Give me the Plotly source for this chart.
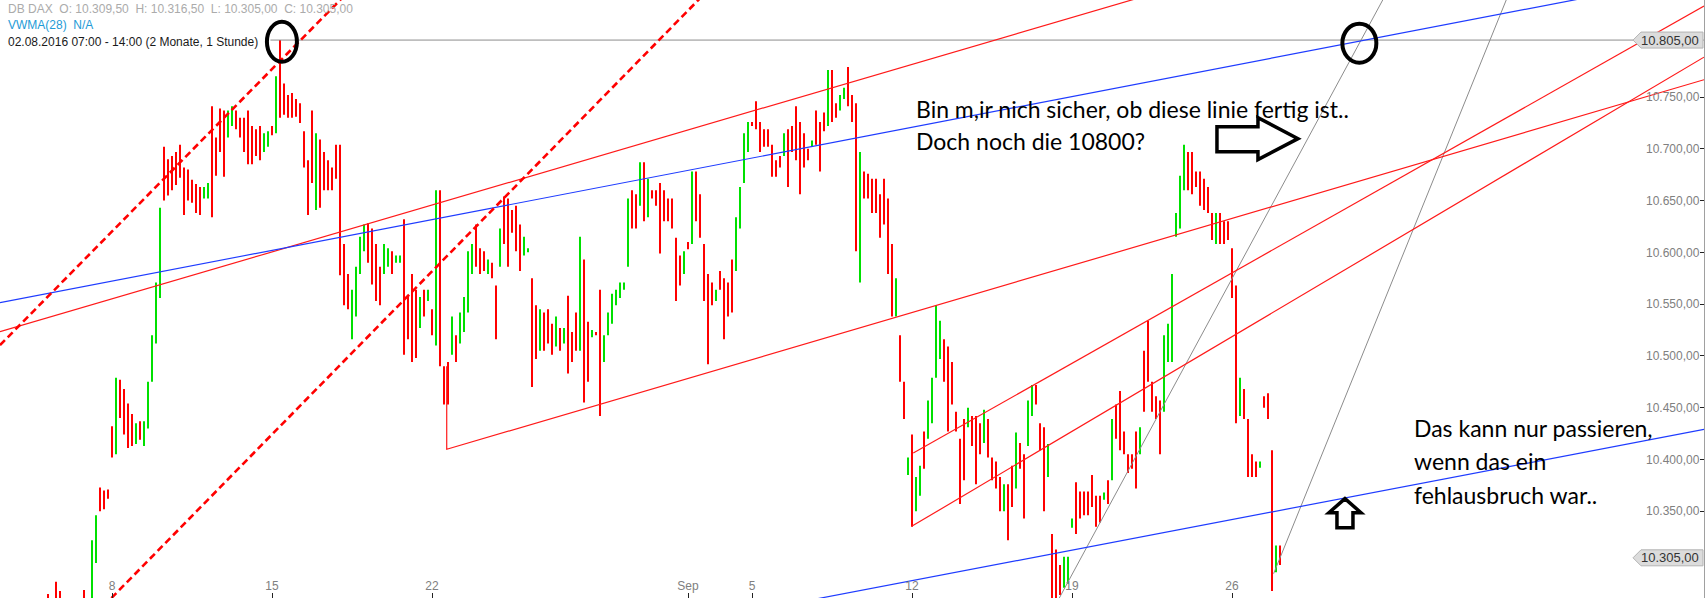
import plotly.graph_objects as go

# ---------------- data ----------------
DAY_NAMES = ["Aug 4", "Aug 5", "Aug 8", "Aug 9", "Aug 10", "Aug 11", "Aug 12",
             "Aug 15", "Aug 16", "Aug 17", "Aug 18", "Aug 19",
             "Aug 22", "Aug 23", "Aug 24", "Aug 25", "Aug 26",
             "Aug 29", "Aug 30", "Aug 31", "Sep 1", "Sep 2",
             "Sep 5", "Sep 6", "Sep 7", "Sep 8", "Sep 9",
             "Sep 12", "Sep 13", "Sep 14", "Sep 15", "Sep 16",
             "Sep 19", "Sep 20", "Sep 21", "Sep 22", "Sep 23",
             "Sep 26", "Sep 27"]
DAY_INDEX = [-2, -1, 0, 1, 2, 3, 4, 5, 6, 7, 8, 9, 10, 11, 12, 13, 14, 15, 16, 17,
             18, 19, 20, 21, 22, 23, 24, 25, 26, 27, 28, 29, 30, 31, 32, 33, 34, 35, 36]
BARS_PER_DAY = 8

HIGHS = [
    [10270, None, 10282, 10273, None, None, None, None],
    [None, 10274, None, 10322, 10346, 10373, 10370, 10371],
    [10432, 10479, 10477, 10468, 10454, 10444, 10435, 10437],
    [10437, 10475, 10520, 10571, 10643, 10702, 10690, 10693],
    [10697, 10704, 10682, 10680, 10670, 10666, 10663, 10663],
    [10667, 10741, 10711, 10739, 10737, 10737, 10741, 10737],
    [10730, 10730, 10737, 10722, 10719, 10722, 10715, 10717],
    [10722, 10770, 10805, 10763, 10752, 10754, 10748, 10744],
    [10717, 10689, 10737, 10715, 10709, 10697, 10689, 10682],
    [10704, 10704, 10608, 10579, 10564, 10586, 10615, 10627],
    [10628, 10623, 10608, 10586, 10608, 10604, 10601, 10597],
    [10597, 10632, 10557, 10579, 10564, 10557, 10564, 10564],
    [10545, 10660, 10660, 10490, 10494, 10538, 10520, 10542],
    [10557, 10601, 10608, 10627, 10604, 10601, 10593, 10590],
    [10568, 10623, 10654, 10652, 10641, 10645, 10627, 10615],
    [10604, 10575, 10549, 10545, 10542, 10545, 10531, 10538],
    [10527, 10527, 10558, 10523, 10542, 10615, 10593, 10533],
    [10525, 10523, 10564, 10520, 10542, 10560, 10564, 10571],
    [10571, 10652, 10660, 10656, 10687, 10687, 10671, 10660],
    [10660, 10667, 10660, 10652, 10652, 10614, 10597, 10601],
    [10610, 10678, 10678, 10656, 10608, 10579, 10571, 10564],
    [10582, 10575, 10571, 10593, 10634, 10663, 10715, 10726],
    [10726, 10746, 10726, 10719, 10719, 10704, 10689, 10693],
    [10715, 10719, 10722, 10741, 10726, 10715, 10700, 10708],
    [10737, 10726, 10735, 10776, 10776, 10744, 10752, 10759],
    [10779, 10752, 10744, 10697, 10678, 10676, 10671, 10671],
    [10656, 10671, 10652, 10608, 10575, 10520, 10475, 10402],
    [10424, 10383, 10394, 10427, 10457, 10479, 10549, 10534],
    [10516, 10509, 10494, 10446, 10420, 10439, 10450, 10442],
    [10442, 10435, 10448, 10439, 10402, 10398, 10383, 10376],
    [10376, 10394, 10426, 10416, 10405, 10457, 10472, 10472],
    [10435, 10431, 10415, 10328, 10313, 10298, 10306, 10306],
    [10343, 10378, 10369, 10369, 10369, 10385, 10365, 10365],
    [10368, 10380, 10439, 10453, 10466, 10427, 10405, 10405],
    [10427, 10431, 10505, 10534, 10475, 10461, 10457, 10520],
    [10531, 10579, 10638, 10674, 10704, 10697, 10697, 10678],
    [10678, 10671, 10663, 10638, 10638, 10638, 10630, 10630],
    [10604, 10568, 10479, 10468, 10439, 10405, 10398, 10398],
    [10461, 10464, 10409, 10317, 10317, None, None, None],
]
LOWS = [
    [10240, None, 10245, 10245, None, None, None, None],
    [None, 10250, None, 10255, 10300, 10350, 10352, 10362],
    [10402, 10405, 10440, 10424, 10411, 10413, 10415, 10419],
    [10413, 10430, 10475, 10512, 10556, 10650, 10655, 10660],
    [10665, 10672, 10636, 10650, 10648, 10638, 10636, 10652],
    [10652, 10634, 10674, 10697, 10673, 10711, 10722, 10719],
    [10711, 10697, 10685, 10685, 10693, 10689, 10697, 10702],
    [10713, 10715, 10730, 10733, 10730, 10730, 10731, 10725],
    [10682, 10636, 10667, 10641, 10643, 10660, 10660, 10660],
    [10671, 10578, 10549, 10545, 10516, 10538, 10579, 10601],
    [10590, 10569, 10553, 10549, 10579, 10586, 10579, 10590],
    [10590, 10501, 10516, 10494, 10498, 10527, 10538, 10553],
    [10520, 10510, 10490, 10453, 10453, 10501, 10494, 10512],
    [10523, 10542, 10579, 10586, 10579, 10582, 10579, 10575],
    [10516, 10586, 10608, 10586, 10619, 10601, 10582, 10597],
    [10600, 10470, 10497, 10505, 10505, 10512, 10501, 10509],
    [10505, 10512, 10483, 10494, 10505, 10505, 10455, 10475],
    [10518, 10520, 10442, 10494, 10520, 10531, 10549, 10556],
    [10564, 10586, 10623, 10623, 10645, 10630, 10634, 10652],
    [10645, 10599, 10630, 10630, 10623, 10553, 10568, 10579],
    [10603, 10608, 10630, 10614, 10553, 10492, 10549, 10553],
    [10564, 10516, 10538, 10542, 10582, 10623, 10667, 10697],
    [10722, 10719, 10697, 10702, 10702, 10673, 10673, 10682],
    [10693, 10663, 10697, 10689, 10656, 10682, 10689, 10702],
    [10704, 10678, 10717, 10722, 10726, 10730, 10737, 10748],
    [10741, 10726, 10601, 10571, 10652, 10652, 10638, 10638],
    [10614, 10627, 10579, 10538, 10538, 10475, 10439, 10385],
    [10335, 10350, 10365, 10391, 10420, 10435, 10479, 10497],
    [10475, 10427, 10453, 10427, 10357, 10380, 10431, 10413],
    [10376, 10405, 10416, 10402, 10380, 10372, 10350, 10350],
    [10322, 10354, 10372, 10391, 10343, 10413, 10442, 10453],
    [10409, 10350, 10383, 10250, 10250, 10269, 10276, 10280],
    [10334, 10328, 10343, 10346, 10346, 10354, 10335, 10339],
    [10361, 10357, 10380, 10420, 10409, 10405, 10387, 10391],
    [10372, 10405, 10446, 10475, 10446, 10439, 10405, 10446],
    [10494, 10494, 10615, 10623, 10660, 10660, 10656, 10663],
    [10645, 10641, 10638, 10612, 10608, 10608, 10608, 10612],
    [10556, 10435, 10442, 10439, 10383, 10383, 10383, 10392],
    [10450, 10439, 10273, 10291, 10298, None, None, None],
]
# r = falling bar, g = rising bar
DIRECTION = [
    "rrrrrrrr", "rrrggrrr", "rgrrrrgr", "gggggrrr", "rrrrrrrg", "grrrrggr",
    "rrrrrrgg", "rgrrrrrr", "rrrgrrrr", "rrrrgggg", "rrrrggrg", "grrrrgrg",
    "rgrrrgrg", "gggrrrgr", "rgrrrrrg", "grrgrrrg", "rgrrrgrr", "grrggggg",
    "ggrrgrgr", "rrrrrrrg", "rgrrrrrg", "rrrrgggg", "rrrrrrrr", "grrrrrrg",
    "rrrgrrgg", "rrrgrrrr", "rrrrgrrg", "rggrgggg", "rrrrrrgr", "rrgrrrrg",
    "rrgrrggr", "rrgrrrgg", "grrrrrrr", "grgrrrrr", "rgrrrrrg", "gggggrrr",
    "rrrrgrrr", "rrgrrrrg", "rrrgrrrr",
]

X_TICK_POS = [0, 5, 10, 18, 20, 25, 30, 35]
X_TICK_TEXT = ["8", "15", "22", "Sep", "5", "12", "19", "26"]
Y_TICK_VALS = [10350, 10400, 10450, 10500, 10550, 10600, 10650, 10700, 10750]
Y_TICK_TEXT = ["10.350,00", "10.400,00", "10.450,00", "10.500,00", "10.550,00",
               "10.600,00", "10.650,00", "10.700,00", "10.750,00"]
X_RANGE = [-3.5, 49.75]
Y_RANGE = [10266.2, 10843.7]

# trend lines drawn on the chart: (day position, price) vertices
RED_DASHED = [
    ([-3.5, 8.0], [10510.4, 10871.0]),
    ([-0.5, 19.0], [10251.0, 10865.0]),
]
BLUE_LINES = [
    ([-3.5, 47.0], [10551.4, 10851.5]),
    ([21.5, 49.75], [10262.3, 10429.0]),
]
RED_LINES = [
    ([-3.5, 33.0], [10523.4, 10854.0]),
    ([10.46, 10.46, 49.75], [10490.0, 10409.8, 10766.7]),
    ([25.04, 49.75], [10406.2, 10837.8]),
    ([24.99, 49.75], [10335.4, 10788.5]),
]
GRAY_LINES = [
    ([29.6, 39.75], [10266.0, 10846.0]),
    ([36.3, 43.6], [10289.7, 10846.0]),
]
MARKED_LEVEL = 10805
MARKED_FROM = 4.95
LAST_PRICE = 10305

# ---------------- build ----------------
fig = go.Figure()

red_x, red_y, grn_x, grn_y = [], [], [], []
for d, idx in enumerate(DAY_INDEX):
    for j in range(BARS_PER_DAY):
        h, l = HIGHS[d][j], LOWS[d][j]
        if h is None:
            continue
        xv = idx + j / BARS_PER_DAY
        if DIRECTION[d][j] == "g":
            grn_x += [xv, xv, None]
            grn_y += [l, h, None]
        else:
            red_x += [xv, xv, None]
            red_y += [l, h, None]

fig.add_trace(go.Scatter(x=red_x, y=red_y, mode="lines",
                         line=dict(color="#ff0000", width=2), hoverinfo="skip"))
fig.add_trace(go.Scatter(x=grn_x, y=grn_y, mode="lines",
                         line=dict(color="#00e000", width=2), hoverinfo="skip"))

fig.add_trace(go.Scatter(x=[MARKED_FROM, X_RANGE[1] + 1], y=[MARKED_LEVEL, MARKED_LEVEL],
                         mode="lines", line=dict(color="#8c8c8c", width=1), hoverinfo="skip"))
for xs, ys in GRAY_LINES:
    fig.add_trace(go.Scatter(x=xs, y=ys, mode="lines",
                             line=dict(color="#8c8c8c", width=1), hoverinfo="skip"))
for xs, ys in RED_LINES:
    fig.add_trace(go.Scatter(x=xs, y=ys, mode="lines",
                             line=dict(color="#ff1a1a", width=1.2), hoverinfo="skip"))
for xs, ys in BLUE_LINES:
    fig.add_trace(go.Scatter(x=xs, y=ys, mode="lines",
                             line=dict(color="#1f3cff", width=1.2), hoverinfo="skip"))
for xs, ys in RED_DASHED:
    fig.add_trace(go.Scatter(x=xs, y=ys, mode="lines",
                             line=dict(color="#ff0000", width=2.6, dash="7px,4px"),
                             hoverinfo="skip"))

shapes = []
# black ellipses
for cx, cy, rx, ry in [(5.31, 10803.4, 15, 20), (38.98, 10802.0, 17, 19.5)]:
    shapes.append(dict(type="circle", xref="x", yref="y", xsizemode="pixel", ysizemode="pixel",
                       xanchor=cx, yanchor=cy, x0=-rx, x1=rx, y0=-ry, y1=ry,
                       line=dict(color="black", width=4)))
# block arrows
shapes.append(dict(type="path", xref="x", yref="y", xsizemode="pixel", ysizemode="pixel",
                   xanchor=34.53, yanchor=10709.8,
                   path="M0,12 L41,12 L41,21 L81,0 L41,-21 L41,-13 L0,-13 Z",
                   line=dict(color="black", width=3.5)))
shapes.append(dict(type="path", xref="x", yref="y", xsizemode="pixel", ysizemode="pixel",
                   xanchor=38.53, yanchor=10334.1,
                   path="M-8,0 L-8,15 L-16,15 L0,29 L16,15 L8,15 L8,0 Z",
                   line=dict(color="black", width=3.5)))
# price tags on the right axis
for level in [MARKED_LEVEL, LAST_PRICE]:
    shapes.append(dict(type="path", xref="paper", yref="y", xsizemode="pixel", ysizemode="pixel",
                       xanchor=1, yanchor=level,
                       path="M-71,0 L-63,8 L-1,8 L-1,-8 L-63,-8 Z",
                       fillcolor="#dcdcdc", line=dict(color="#b4b4b4", width=1)))

annotations = []
for level, txt in [(MARKED_LEVEL, "10.805,00"), (LAST_PRICE, "10.305,00")]:
    annotations.append(dict(xref="paper", yref="y", x=1, y=level, xanchor="right", yanchor="middle",
                            xshift=-3, text=txt, showarrow=False,
                            font=dict(family="Liberation Sans, Arial", size=13, color="#333333")))

header = [
    ("DB DAX  O: 10.309,50  H: 10.316,50  L: 10.305,00  C: 10.305,00", "#ababab", 9),
    ("VWMA(28)  N/A", "#1e9bd7", 25),
    ("02.08.2016 07:00 - 14:00 (2 Monate, 1 Stunde)", "#1a1a1a", 42),
]
for txt, col, ypx in header:
    annotations.append(dict(xref="paper", yref="paper", x=0, y=1 - ypx / 598, xanchor="left",
                            yanchor="middle", xshift=6, text=txt, showarrow=False,
                            font=dict(family="Liberation Sans, Arial", size=12, color=col)))

comments = [
    ("Bin m,ir nich sicher, ob diese linie fertig ist..", 25.06, 10738.7),
    ("Doch noch die 10800?", 25.06, 10707.4),
    ("Das kann nur passieren,", 40.63, 10430.7),
    ("wenn das ein", 40.63, 10398.2),
    ("fehlausbruch war..", 40.63, 10365.5),
]
for txt, xv, yv in comments:
    annotations.append(dict(xref="x", yref="y", x=xv, y=yv, xanchor="left", yanchor="middle",
                            text=txt, showarrow=False,
                            font=dict(family="Lato, Open Sans, sans-serif", size=23, color="black")))

fig.update_layout(
    width=1707, height=598,
    margin=dict(l=0, r=3, t=0, b=0),
    paper_bgcolor="white", plot_bgcolor="white",
    showlegend=False,
    shapes=shapes, annotations=annotations,
    xaxis=dict(range=X_RANGE, tickmode="array", tickvals=X_TICK_POS, ticktext=X_TICK_TEXT,
               ticks="inside", ticklen=5, tickcolor="#222222", ticklabelposition="inside",
               showgrid=False, zeroline=False, showline=False,
               tickfont=dict(family="Liberation Sans, Arial", size=12, color="#808080")),
    yaxis=dict(range=Y_RANGE, side="right", tickmode="array", tickvals=Y_TICK_VALS,
               ticktext=Y_TICK_TEXT, ticks="inside", ticklen=4, tickcolor="#222222",
               ticklabelposition="inside", showgrid=False, zeroline=False,
               showline=True, linecolor="#a0a0a0", linewidth=1,
               tickfont=dict(family="Liberation Sans, Arial", size=12, color="#808080")),
)

fig.write_html("out.html", include_plotlyjs=True, full_html=True,
               config={"displayModeBar": False},
               post_script="document.body.style.margin='0';document.body.style.overflow='hidden';")
